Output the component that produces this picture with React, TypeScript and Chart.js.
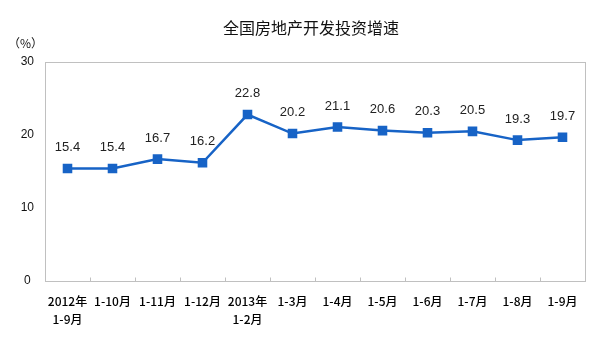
import React, { useEffect, useRef } from "react";
import { Chart, registerables } from "chart.js";

Chart.register(...registerables);

const categories: (string | string[])[] = [
  ["2012年", "1-9月"],
  "1-10月",
  "1-11月",
  "1-12月",
  ["2013年", "1-2月"],
  "1-3月",
  "1-4月",
  "1-5月",
  "1-6月",
  "1-7月",
  "1-8月",
  "1-9月",
];
const growth: number[] = [15.4, 15.4, 16.7, 16.2, 22.8, 20.2, 21.1, 20.6, 20.3, 20.5, 19.3, 19.7];
const yTicks: number[] = [0, 10, 20, 30];
const titleText = "全国房地产开发投资增速";
const unitText = "（%）";

const decor = {
  id: "decor",
  afterDraw(chart: any) {
    const { ctx, chartArea } = chart;
    ctx.save();
    // border box
    ctx.strokeStyle = "#c0c0c0";
    ctx.lineWidth = 1;
    const l = Math.round(chartArea.left) + 0.5;
    const t = Math.round(chartArea.top) + 0.5;
    const b = Math.round(chartArea.bottom) + 0.5;
    ctx.strokeRect(l, t, Math.round(chartArea.right - chartArea.left), Math.round(chartArea.bottom - chartArea.top));
    // inner category ticks
    const xs = chart.scales.x;
    ctx.beginPath();
    for (let i = 1; i < categories.length; i++) {
      const x = Math.round((xs.getPixelForValue(i - 1) + xs.getPixelForValue(i)) / 2) + 0.5;
      ctx.moveTo(x, b);
      ctx.lineTo(x, b - 4);
    }
    ctx.stroke();
    // title
    ctx.fillStyle = "#111";
    ctx.font = '16px "Noto Sans CJK SC"';
    ctx.textAlign = "center";
    ctx.textBaseline = "middle";
    ctx.fillText(titleText, 311, 28);
    // unit
    ctx.font = '12px "Noto Sans CJK SC"';
    ctx.textAlign = "left";
    ctx.fillText(unitText, 8, 43);
    // data labels
    const meta = chart.getDatasetMeta(0);
    ctx.font = '13px "Liberation Sans", Arial, sans-serif';
    ctx.fillStyle = "#222";
    ctx.textAlign = "center";
    ctx.textBaseline = "middle";
    meta.data.forEach((pt: any, i: number) => {
      ctx.fillText(growth[i].toFixed(1), pt.x, pt.y - 21);
    });
    ctx.restore();
  },
};

export default function App() {
  const ref = useRef<HTMLCanvasElement | null>(null);
  useEffect(() => {
    document.body.style.margin = "0";
    const chart = new Chart(ref.current as HTMLCanvasElement, {
      type: "line",
      data: {
        labels: categories,
        datasets: [
          {
            data: growth,
            borderColor: "#1763c6",
            backgroundColor: "#1763c6",
            borderWidth: 2.5,
            pointStyle: "rect",
            pointRadius: 5,
            pointHoverRadius: 5,
            tension: 0,
          },
        ],
      },
      options: {
        animation: false,
        responsive: false,
        layout: { padding: { top: 62, right: 15, left: 0, bottom: 0 } },
        plugins: { legend: { display: false }, tooltip: { enabled: false } },
        scales: {
          x: {
            offset: true,
            grid: { display: false },
            border: { display: false },
            ticks: {
              color: "#000",
              font: { family: '"Noto Sans CJK SC"', size: 12, lineHeight: 1.45, weight: "500" },
              padding: 4,
              maxRotation: 0,
              autoSkip: false,
            },
            afterFit: (s: any) => {
              s.height = 81;
            },
          },
          y: {
            min: 0,
            max: 30,
            afterBuildTicks: (s: any) => {
              s.ticks = yTicks.map((v) => ({ value: v }));
            },
            grid: { display: false },
            border: { display: false },
            ticks: {
              color: "#111",
              crossAlign: "center",
              font: { family: '"Liberation Sans", Arial, sans-serif', size: 12 },
            },
            afterFit: (s: any) => {
              s.width = 45;
            },
          },
        },
      },
      plugins: [decor],
    });
    return () => chart.destroy();
  }, []);
  return <canvas ref={ref} width={600} height={362} style={{ display: "block" }} />;
}
